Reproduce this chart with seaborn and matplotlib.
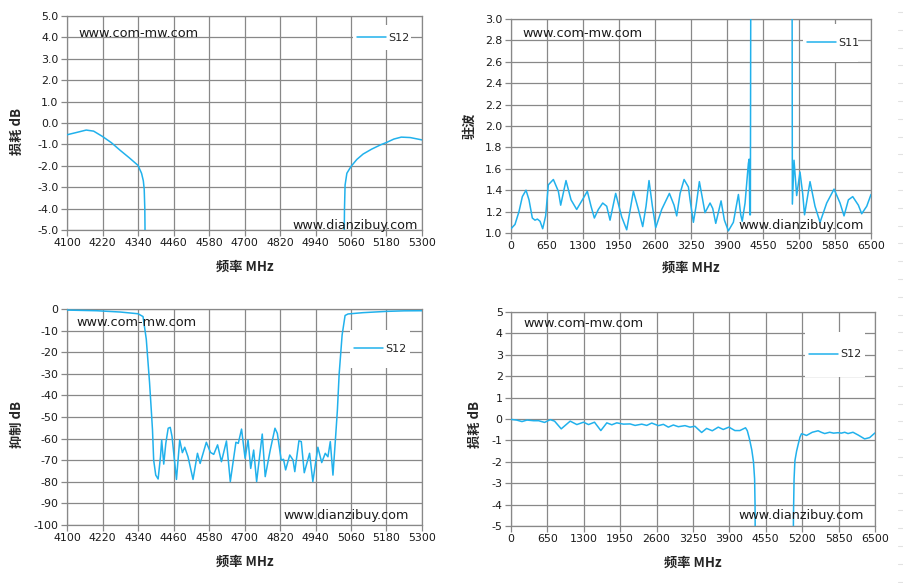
import numpy as np
import matplotlib.pyplot as plt
import matplotlib.patches as mpatches
from matplotlib.lines import Line2D
import seaborn as sns

# ---- values ----
# top left: S12, 4100-5300 MHz, shown between -5 and 5 dB
p1_freq = [4100, 4130, 4165, 4190, 4220, 4250, 4280, 4310, 4340, 4352, 4358, 4361, 4363, 4366, 4380,
           5020, 5035, 5038, 5040, 5046, 5060, 5080, 5101, 5130, 5160, 5180, 5205, 5230, 5260, 5300]
p1_loss = [-0.55, -0.45, -0.33, -0.38, -0.63, -0.92, -1.28, -1.62, -1.98, -2.35, -2.7, -3.1, -4.0, -8.0, -30.0,
           -30.0, -8.0, -4.0, -2.9, -2.35, -2.03, -1.7, -1.45, -1.22, -1.02, -0.91, -0.75, -0.66, -0.68, -0.79]

# top right: S11 VSWR, 0-6500 MHz
p2_freq = [0, 72, 144, 205, 271, 325, 385, 433, 476, 524, 572, 626, 674, 765, 855, 897, 993, 1084, 1186,
           1289, 1378, 1445, 1505, 1577, 1656, 1728, 1788, 1890, 1999, 2089, 2210, 2300, 2378, 2438, 2492,
           2553, 2613, 2721, 2860, 2944, 2992, 3053, 3125, 3203, 3233, 3293, 3341, 3401, 3461, 3503, 3594,
           3642, 3697, 3793, 3853, 3925, 4015, 4106, 4148, 4175, 4226, 4286, 4300, 4312, 4322, 4330, 4345,
           5060, 5075, 5080, 5110, 5158, 5218, 5266, 5300, 5399, 5489, 5580, 5700, 5833, 5941, 6013, 6092,
           6170, 6272, 6332, 6423, 6500]
p2_vswr = [1.04, 1.08, 1.20, 1.34, 1.40, 1.31, 1.14, 1.12, 1.13, 1.11, 1.04, 1.16, 1.45, 1.50, 1.39, 1.26,
           1.49, 1.31, 1.22, 1.31, 1.39, 1.25, 1.14, 1.22, 1.28, 1.25, 1.12, 1.37, 1.15, 1.03, 1.39, 1.22,
           1.06, 1.25, 1.49, 1.25, 1.05, 1.22, 1.37, 1.26, 1.16, 1.37, 1.50, 1.43, 1.31, 1.10, 1.25, 1.48,
           1.31, 1.19, 1.28, 1.23, 1.09, 1.30, 1.12, 1.02, 1.10, 1.36, 1.17, 1.11, 1.28, 1.65, 1.69, 1.17,
           1.17, 3.5, 20.0, 20.0, 3.5, 1.27, 1.68, 1.35, 1.57, 1.37, 1.17, 1.48, 1.25, 1.10, 1.28, 1.41,
           1.28, 1.16, 1.31, 1.34, 1.26, 1.18, 1.25, 1.36]

# bottom left: S12 rejection, 4100-5300 MHz
p3_freq = [4100, 4200, 4280, 4340, 4357, 4368, 4379, 4385, 4389, 4393, 4400, 4408, 4416, 4420, 4427, 4434,
           4442, 4449, 4455, 4470, 4481, 4490, 4498, 4509, 4526, 4541, 4550, 4571, 4585, 4596, 4609, 4622,
           4639, 4652, 4671, 4679, 4690, 4702, 4712, 4721, 4731, 4741, 4760, 4770, 4787, 4803, 4811, 4824,
           4832, 4839, 4853, 4864, 4870, 4884, 4892, 4902, 4920, 4931, 4948, 4961, 4973, 4982, 4990, 4999,
           5008, 5014, 5020, 5030, 5040, 5050, 5100, 5180, 5240, 5300]
p3_rej = [-0.5, -0.8, -1.4, -2.2, -3.5, -14, -34, -47, -56, -70, -76.9, -78.7, -68.4, -60.6, -71.8, -62.2,
          -55.2, -54.8, -59, -78.9, -60.6, -66.5, -64, -68.4, -78.9, -66.8, -71.5, -61.7, -66.4, -67.3, -62.9,
          -70.7, -61.1, -79.9, -61.7, -62.2, -55.6, -69.1, -60.6, -73.8, -65.3, -79.9, -57.9, -77.6, -65.3,
          -55.2, -57.6, -69.9, -69.6, -74.5, -67.6, -69.9, -75.3, -61, -61.4, -75.8, -66.8, -79.9, -64,
          -71.1, -66.8, -68.4, -61.4, -76.9, -59.1, -46.8, -30, -12, -3.0, -2.3, -1.7, -1.1, -0.85, -0.8]

# bottom right: S12 insertion loss, 0-6500 MHz
p4_freq = [0, 100, 196, 285, 404, 493, 600, 701, 778, 897, 1057, 1176, 1295, 1384, 1491, 1604, 1711, 1800,
           1889, 2008, 2127, 2216, 2335, 2424, 2513, 2632, 2721, 2810, 2899, 2988, 3107, 3196, 3285, 3404,
           3493, 3594, 3701, 3790, 3891, 3998, 4087, 4188, 4220, 4260, 4300, 4330, 4350, 4358, 4362, 4380,
           5030, 5040, 5044, 5055, 5070, 5100, 5127, 5160, 5187, 5230, 5276, 5380, 5484, 5540, 5602, 5691,
           5760, 5840, 5900, 5959, 6018, 6107, 6200, 6315, 6404, 6500]
p4_loss = [-0.02, -0.05, -0.12, -0.05, -0.08, -0.08, -0.16, -0.03, -0.1, -0.46, -0.1, -0.26, -0.15, -0.26,
           -0.15, -0.54, -0.18, -0.27, -0.18, -0.24, -0.23, -0.3, -0.24, -0.3, -0.19, -0.31, -0.25, -0.38,
           -0.28, -0.36, -0.31, -0.38, -0.34, -0.63, -0.44, -0.55, -0.38, -0.49, -0.38, -0.54, -0.54, -0.41,
           -0.55, -0.95, -1.45, -2.0, -2.8, -4.0, -6.0, -30.0,
           -30.0, -6.0, -4.5, -2.8, -1.95, -1.5, -1.2, -0.85, -0.69, -0.72, -0.77, -0.62, -0.55, -0.62, -0.68,
           -0.62, -0.66, -0.64, -0.66, -0.62, -0.68, -0.62, -0.75, -0.93, -0.87, -0.65]

ticks_narrow = list(range(4100, 5301, 120))
ticks_wide = list(range(0, 6501, 650))

LINE = '#21b1ec'
GRID = '#888888'

sns.set_theme(style="white")
plt.rcParams['font.family'] = ['DejaVu Sans', 'Noto Sans CJK SC']
plt.rcParams['axes.unicode_minus'] = False

fig = plt.figure(figsize=(9.04, 5.83), dpi=100)
W, H = 904, 583


def make_ax(left, right, top, bottom):
    return fig.add_axes([left / W, 1 - bottom / H, (right - left) / W, (bottom - top) / H])


panels = [
    dict(box=(67, 422, 16, 230), x=p1_freq, y=p1_loss, name='S12', xlim=(4100, 5300), xt=ticks_narrow,
         ylim=(-5, 5), yt=np.arange(-5, 5.01, 1.0), fmt='{:.1f}',
         leg=(0.806, 0.969, 0.841, 0.958), mw=(0.031, 0.916), dz=(0.989, 0.019),
         ylab='损耗 dB', ylab_xy=(17, 132), xlab_y=267),
    dict(box=(511, 871, 19, 233), x=p2_freq, y=p2_vswr, name='S11', xlim=(0, 6500), xt=ticks_wide,
         ylim=(1.0, 3.0), yt=np.arange(1.0, 3.001, 0.2), fmt='{:.1f}',
         leg=(0.811, 0.964, 0.799, 0.977), mw=(0.033, 0.93), dz=(0.981, 0.033),
         ylab='驻波', ylab_xy=(469, 126), xlab_y=268),
    dict(box=(67, 422, 309, 525), x=p3_freq, y=p3_rej, name='S12', xlim=(4100, 5300), xt=ticks_narrow,
         ylim=(-100, 0), yt=np.arange(-100, 1, 10), fmt='{:.0f}',
         leg=(0.797, 0.966, 0.727, 0.903), mw=(0.028, 0.937), dz=(0.963, 0.042),
         ylab='抑制 dB', ylab_xy=(17, 425), xlab_y=562),
    dict(box=(511, 875, 312, 526), x=p4_freq, y=p4_loss, name='S12', xlim=(0, 6500), xt=ticks_wide,
         ylim=(-5, 5), yt=np.arange(-5, 5.01, 1), fmt='{:.0f}',
         leg=(0.808, 0.973, 0.696, 0.907), mw=(0.033, 0.944), dz=(0.970, 0.047),
         ylab='损耗 dB', ylab_xy=(475, 425), xlab_y=563),
]

for p in panels:
    l, r, t, b = p['box']
    ax = make_ax(l, r, t, b)
    sns.lineplot(x=p['x'], y=p['y'], ax=ax, color=LINE, linewidth=1.1, sort=False,
                 estimator=None, label=p['name'], zorder=3)
    ax.set_xlim(*p['xlim'])
    ax.set_ylim(*p['ylim'])
    ax.set_xticks(p['xt'])
    ax.set_yticks(p['yt'])
    ax.set_yticklabels([p['fmt'].format(v) for v in p['yt']])
    ax.grid(True, color=GRID, linewidth=0.9)
    ax.set_axisbelow(True)
    for s in ax.spines.values():
        s.set_color(GRID)
        s.set_linewidth(0.9)
    ax.tick_params(axis='both', which='both', direction='out', length=4, width=0.9, color=GRID,
                   labelsize=7.9, labelcolor='#1a1a1a', pad=2, bottom=True, left=True)
    ax.set_xlabel('')
    ax.set_ylabel('')

    # white legend box hiding the grid
    x0, x1, y0, y1 = p['leg']
    ax.add_patch(mpatches.Rectangle((x0, y0), x1 - x0, y1 - y0, transform=ax.transAxes,
                                    facecolor='white', edgecolor='none', zorder=4))
    ax.legend(loc='center left', bbox_to_anchor=(x0 + 0.012, (y0 + y1) / 2), frameon=False,
              fontsize=8, handlelength=2.6, handletextpad=0.2, borderaxespad=0, borderpad=0)

    ax.text(p['mw'][0], p['mw'][1], 'www.com-mw.com', transform=ax.transAxes, ha='left', va='center',
            fontsize=9.3, color='#1a1a1a', zorder=6)
    ax.text(p['dz'][0], p['dz'][1], 'www.dianzibuy.com', transform=ax.transAxes, ha='right', va='center',
            fontsize=9.2, color='#1a1a1a', zorder=6)

    fig.text(p['ylab_xy'][0] / W, 1 - p['ylab_xy'][1] / H, p['ylab'], rotation=90, ha='center',
             va='center', fontsize=9.5, fontweight='bold', family=['Noto Sans CJK SC'])
    fig.text((l + r) / 2 / W, 1 - p['xlab_y'] / H, '频率 MHz', ha='center', va='center',
             fontsize=9.5, fontweight='bold', family=['Noto Sans CJK SC'])

# faint sheet grid marks on the right edge
for yy in np.arange(12, H, 17.8):
    fig.add_artist(Line2D([898 / W, 1.0], [1 - yy / H] * 2, transform=fig.transFigure,
                          color='#e2e2e2', linewidth=0.8))

fig.savefig('out.png', dpi=100)
